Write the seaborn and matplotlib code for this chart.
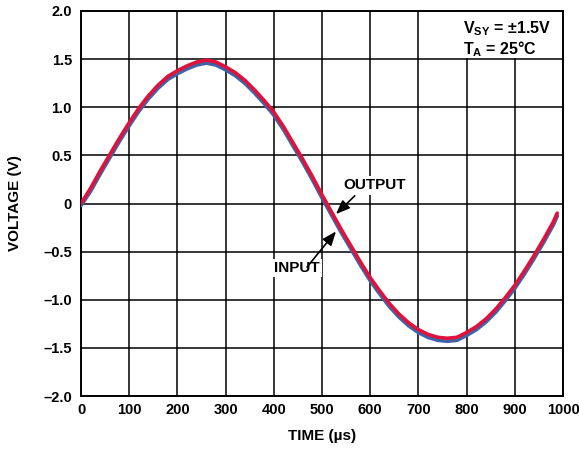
import matplotlib
matplotlib.use("Agg")
import matplotlib.pyplot as plt
from matplotlib.patches import Rectangle
import seaborn as sns
import pandas as pd

# ---- data ----
time_us = [0, 20, 40, 60, 80, 100, 120, 140, 160, 180,
           200, 220, 240, 260, 280, 300, 320, 340, 360, 380,
           400, 420, 440, 460, 480, 500, 520, 540, 560, 580,
           600, 620, 640, 660, 680, 700, 720, 740, 760, 780,
           800, 820, 840, 860, 880, 900, 920, 940, 960, 980, 988]
output_v = [0.00, 0.16, 0.34, 0.51, 0.68, 0.84, 0.99, 1.12, 1.23, 1.32,
            1.38, 1.43, 1.47, 1.49, 1.47, 1.42, 1.36, 1.28, 1.18, 1.07,
            0.95, 0.80, 0.63, 0.46, 0.28, 0.09, -0.09, -0.27, -0.44, -0.61,
            -0.77, -0.91, -1.04, -1.15, -1.24, -1.31, -1.36, -1.39, -1.40, -1.39,
            -1.34, -1.28, -1.20, -1.10, -0.98, -0.85, -0.70, -0.54, -0.37, -0.19, -0.10]
input_v = [-0.02, 0.13, 0.31, 0.48, 0.65, 0.81, 0.96, 1.09, 1.20, 1.29,
           1.35, 1.40, 1.44, 1.46, 1.44, 1.39, 1.33, 1.25, 1.15, 1.04,
           0.92, 0.77, 0.60, 0.43, 0.25, 0.06, -0.12, -0.30, -0.47, -0.64,
           -0.80, -0.94, -1.07, -1.18, -1.27, -1.34, -1.39, -1.42, -1.43, -1.42,
           -1.37, -1.31, -1.23, -1.13, -1.01, -0.88, -0.73, -0.57, -0.40, -0.22, -0.13]

x_ticks = [0, 100, 200, 300, 400, 500, 600, 700, 800, 900, 1000]
x_tick_labels = ["0", "100", "200", "300", "400", "500", "600", "700", "800", "900", "1000"]
y_ticks = [-2.0, -1.5, -1.0, -0.5, 0, 0.5, 1.0, 1.5, 2.0]
y_tick_labels = ["\u20132.0", "\u20131.5", "\u20131.0", "\u20130.5", "0", "0.5", "1.0", "1.5", "2.0"]

df = pd.DataFrame({"time": time_us, "output": output_v, "input": input_v})

sns.set_theme(style="white")
plt.rcParams["font.family"] = ["Liberation Sans", "DejaVu Sans"]
plt.rcParams["font.weight"] = "bold"
plt.rcParams["text.color"] = "black"
plt.rcParams["axes.labelcolor"] = "black"
plt.rcParams["xtick.color"] = "black"
plt.rcParams["ytick.color"] = "black"
plt.rcParams["mathtext.fontset"] = "custom"
plt.rcParams["mathtext.bf"] = "Liberation Sans:bold"
plt.rcParams["mathtext.rm"] = "Liberation Sans:bold"

fig = plt.figure(figsize=(5.79, 4.55), dpi=100)
ax = fig.add_axes([81 / 579, 1 - 396 / 455, (563 - 81) / 579, (396 - 11) / 455])

sns.lineplot(data=df, x="time", y="input", ax=ax, color="#3d63a8",
             linewidth=2.8, zorder=3)
sns.lineplot(data=df, x="time", y="output", ax=ax, color="#e0123c",
             linewidth=2.6, zorder=4)

ax.set_xlim(0, 1000)
ax.set_ylim(-2.0, 2.0)
ax.set_xticks(x_ticks)
ax.set_xticklabels(x_tick_labels, fontsize=10.5, fontweight="bold", color="black")
ax.set_yticks(y_ticks)
ax.set_yticklabels(y_tick_labels, fontsize=10.5, fontweight="bold", color="black")
ax.tick_params(axis="x", length=0, pad=5, colors="black")
ax.tick_params(axis="y", length=0, pad=6.5, colors="black")
ax.grid(True, color="black", linewidth=1.1)
ax.set_axisbelow(True)
for s in ax.spines.values():
    s.set_visible(True)
    s.set_color("black")
    s.set_linewidth(1.4)

ax.set_xlabel("TIME (\u00b5s)", fontsize=11, fontweight="bold", labelpad=9, color="black")
ax.set_ylabel("VOLTAGE (V)", fontsize=11, fontweight="bold", labelpad=15, color="black")

# white box behind conditions legend
ax.add_patch(Rectangle((775, 1.515), 224, 0.48, facecolor="white",
                       edgecolor="none", zorder=2))
ax.text(0.7925, 0.978, "V$_{\\mathbf{SY}}$ = \u00b11.5V\nT$_{\\mathbf{A}}$ = 25\u00b0C",
        transform=ax.transAxes, ha="left", va="top", fontsize=11.5,
        fontweight="bold", color="black", linespacing=1.05, zorder=5)

box = dict(boxstyle="square,pad=0.15", facecolor="white", edgecolor="none")
ax.text(609, 0.19, "OUTPUT", fontsize=11, fontweight="bold", ha="center",
        va="center", bbox=box, color="black", zorder=5)
ax.text(448, -0.67, "INPUT", fontsize=11, fontweight="bold", ha="center",
        va="center", bbox=box, color="black", zorder=5)
arrow = dict(arrowstyle="-|>,head_length=0.7,head_width=0.28",
             color="black", lw=1.2, shrinkA=0, shrinkB=0)
ax.annotate("", xy=(529, -0.11), xytext=(568, 0.08), arrowprops=arrow, zorder=6)
ax.annotate("", xy=(529, -0.29), xytext=(469, -0.66), arrowprops=arrow, zorder=6)

fig.savefig("out.png", dpi=100)
